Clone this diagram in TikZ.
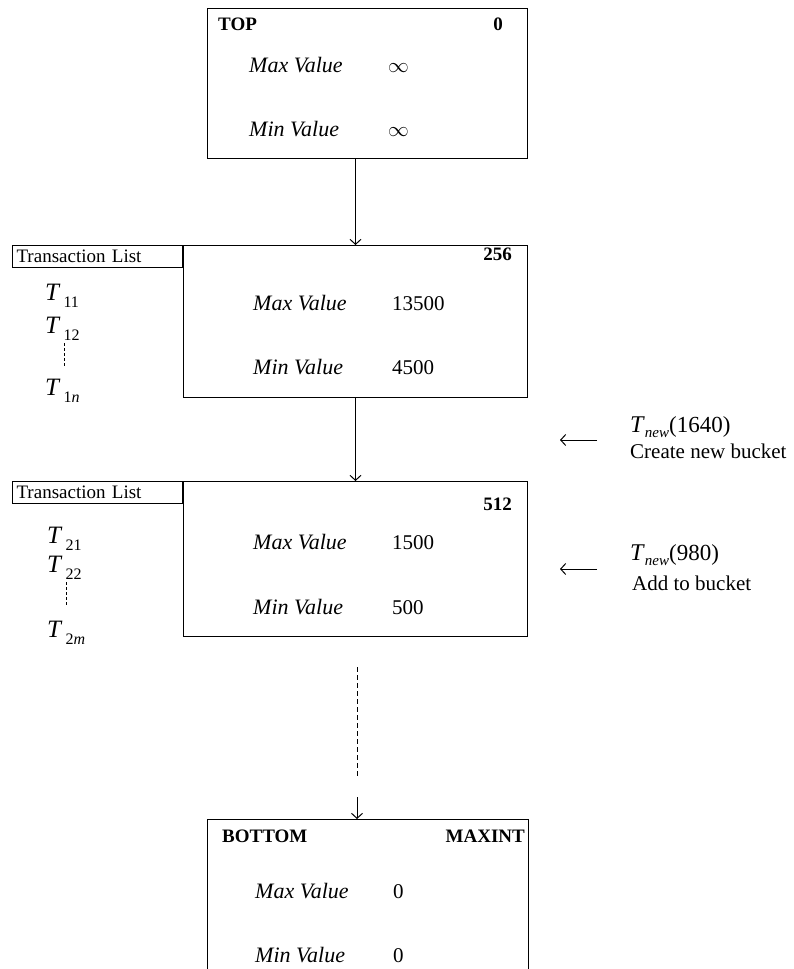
\documentclass[tikz,border=0pt]{standalone}
\usepackage{fontspec}
\setmainfont{Liberation Serif}
\usetikzlibrary{
    arrows.meta,
    positioning,
    calc
}
\tikzset{
  bucket/.style  = {draw, line width=1pt, minimum width=344pt,
                    minimum height=152pt, inner sep=0pt, anchor=north west},
  listbox/.style = {draw, line width=0.9pt, text width=162pt, inner xsep=4pt,
                    inner ysep=0pt, minimum height=22pt, align=left,
                    anchor=north east, font=\fontsize{19}{19}\selectfont},
  hdr/.style     = {font=\fontsize{19}{19}\selectfont\bfseries, inner sep=0pt},
  fld/.style     = {font=\fontsize{22}{22}\selectfont\itshape, inner sep=0pt,
                    anchor=base west},
  val/.style     = {font=\fontsize{21}{21}\selectfont, inner sep=0pt,
                    anchor=base west},
  tx/.style      = {font=\fontsize{25}{25}\selectfont, inner sep=0pt,
                    anchor=base west},
  note/.style    = {font=\fontsize{21}{21}\selectfont, inner sep=0pt,
                    anchor=base west},
  arr/.style     = {-{Straight Barb[length=5pt,width=11pt]}, line width=1pt},
  ellip/.style   = {line width=0.8pt, dash pattern=on 3pt off 2pt}
}
\newcommand{\tentry}[1]{\textit{T}\hspace{3pt}\raisebox{-7pt}{\fontsize{16}{16}\selectfont #1}}
\newcommand{\tnew}[1]{{\fontsize{24}{24}\selectfont\textit{T}}\raisebox{-5pt}{\fontsize{15}{15}\selectfont\itshape new}\fontsize{23}{23}\selectfont(#1)}

\begin{document}
\begin{tikzpicture}[x=1pt, y=-1pt]
  \useasboundingbox (0,0) rectangle (793,969);

  % buckets
  \node[bucket, minimum width=320pt, minimum height=150pt] (top) at (207,8) {};
  \node[bucket] (b256) at (183,245) {};
  \node[bucket, minimum height=155pt] (b512) at (183,481) {};
  \node[bucket, minimum width=321pt, minimum height=170pt] (bot) at (207,819) {};

  % top bucket
  \node[hdr, anchor=base west] (toplbl) at (218,30) {TOP};
  \node[hdr, anchor=base east] (topnum) at (503,30) {0};
  \node[fld] (topmax) at (249,72) {Max Value};
  \node[val] (topmaxv) at (388,72) {$\infty$};
  \node[fld] (topmin) at (249,136) {Min Value};
  \node[val] (topminv) at (388,136) {$\infty$};

  % bucket 256
  \node[hdr, anchor=base east] (num256) at (512,260) {256};
  \node[fld] (max256) at (253,310) {Max Value};
  \node[val] (max256v) at (392,310) {13500};
  \node[fld] (min256) at (253,374) {Min Value};
  \node[val] (min256v) at (392,374) {4500};
  \node[listbox] (list1) at (b256.north west) {Transaction List};
  \node[tx] (t11) at (45,300) {\tentry{11}};
  \node[tx] (t12) at (45,333) {\tentry{12}};
  \node[tx] (t1n) at (45,395) {\tentry{1\textit{n}}};
  \coordinate (e1a) at (64,343);
  \coordinate (e1b) at (64,367);
  \draw[ellip] (e1a) -- (e1b);

  % bucket 512
  \node[hdr, anchor=base east] (num512) at (512,510) {512};
  \node[fld] (max512) at (253,549) {Max Value};
  \node[val] (max512v) at (392,549) {1500};
  \node[fld] (min512) at (253,614) {Min Value};
  \node[val] (min512v) at (392,614) {500};
  \node[listbox] (list2) at (b512.north west) {Transaction List};
  \node[tx] (t21) at (47,543) {\tentry{21}};
  \node[tx] (t22) at (47,572) {\tentry{22}};
  \node[tx] (t2m) at (47,637) {\tentry{2\textit{m}}};
  \coordinate (e2a) at (66,582);
  \coordinate (e2b) at (66,605);
  \draw[ellip] (e2a) -- (e2b);

  % bottom bucket
  \node[hdr, anchor=base west] (botlbl) at (222,842) {BOTTOM};
  \node[hdr, anchor=base east] (botnum) at (525,842) {MAXINT};
  \node[fld] (botmax) at (255,898) {Max Value};
  \node[val] (botmaxv) at (393,898) {0};
  \node[fld] (botmin) at (255,962) {Min Value};
  \node[val] (botminv) at (393,962) {0};

  % links
  \draw[arr] (top.south -| b256.north) -- (b256.north);
  \draw[arr] (b256.south) -- (b512.north);
  \coordinate (gap1) at (357,667);
  \coordinate (gap2) at (357,777);
  \coordinate (gap3) at (357,797);
  \draw[line width=1pt, dash pattern=on 5pt off 3pt] (gap1) -- (gap2);
  \draw[arr] (gap3) -- (gap3 |- bot.north);

  % new transactions
  \node[note] (new1) at (630,432) {\tnew{1640}};
  \node[note] (new1txt) at (630,458) {Create new bucket};
  \coordinate (in1a) at (597,440);
  \coordinate (in1b) at (560,440);
  \draw[arr] (in1a) -- (in1b);

  \node[note] (new2) at (630,560) {\tnew{980}};
  \node[note] (new2txt) at (632,590) {Add to bucket};
  \coordinate (in2a) at (597,569);
  \coordinate (in2b) at (560,569);
  \draw[arr] (in2a) -- (in2b);
\end{tikzpicture}
\end{document}
